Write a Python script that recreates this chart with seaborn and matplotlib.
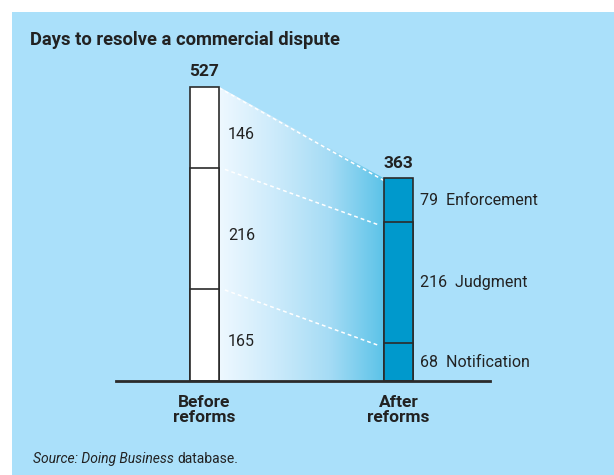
import numpy as np
import pandas as pd
import matplotlib.pyplot as plt
import seaborn as sns
from matplotlib.colors import LinearSegmentedColormap
from matplotlib.patches import Polygon, Rectangle

# data (days)
periods = ['Before\nreforms', 'After\nreforms']
stages = ['Notification', 'Judgment', 'Enforcement']
before_days = [165, 216, 146]
after_days = [68, 216, 79]

PANEL = '#aae0fa'
AFTER = '#0099cc'
EDGE = '#2b2b2b'
TXT = '#222222'

sns.set_theme(style='white')
plt.rcParams['font.family'] = ['Roboto', 'DejaVu Sans']

rows = []
for p, vals in zip(periods, [before_days, after_days]):
    cum = np.cumsum(vals)
    for s, c in zip(stages, cum):
        rows.append({'period': p, 'stage': s, 'cum': c})
df = pd.DataFrame(rows)
totals = df.groupby('period', sort=False)['cum'].max()

fig = plt.figure(figsize=(6.14, 4.75), dpi=100)
fig.patch.set_facecolor('white')
fig.patches.append(Rectangle((12 / 614, 0), 1, 1 - 12 / 475, transform=fig.transFigure,
                             facecolor=PANEL, edgecolor='none', zorder=-10))

ax = fig.add_axes([116 / 614, 94 / 475, 374 / 614, 335 / 475])
ax.set_facecolor('none')

bw = 0.15
# layered cumulative bars = stacked look
for s in stages[::-1]:
    sub = df[df['stage'] == s]
    sns.barplot(data=sub, x='period', y='cum', hue='period', order=periods,
                hue_order=periods, palette={periods[0]: 'white', periods[1]: AFTER},
                saturation=1, width=bw, errorbar=None, legend=False,
                edgecolor=EDGE, linewidth=1.2, ax=ax, zorder=3)

# gradient wedge between the bars
b_cum = np.cumsum(before_days)
a_cum = np.cumsum(after_days)
x0, x1 = 0 + bw / 2, 1 - bw / 2
cmap = LinearSegmentedColormap.from_list('g', ['#eef8ff', '#cdebfb', '#a6dcf5', '#5cc3e8'])
grad = np.linspace(0, 1, 256).reshape(1, -1)
im = ax.imshow(grad, extent=[x0, x1, 0, b_cum[-1]], aspect='auto', cmap=cmap,
               origin='lower', zorder=1)
poly = Polygon([(x0, 0), (x0, b_cum[-1]), (x1, a_cum[-1]), (x1, 0)],
               closed=True, facecolor='none', edgecolor='none', transform=ax.transData)
ax.add_patch(poly)
im.set_clip_path(poly)

for i, (yb, ya) in enumerate(zip(b_cum, a_cum)):
    off = 0.0 if i == 2 else 0.03
    ax.plot([x0 + off, x1 - off], [yb - 2, ya - 4], color='white', lw=1.1,
            ls=(0, (2.5, 2)), zorder=2)

# segment labels
lo = np.concatenate([[0], b_cum[:-1]])
for v, l in zip(before_days, lo):
    ax.text(x0 + 0.045, l + v / 2 - 12, str(v), ha='left', va='center',
            fontsize=11.5, color=TXT, zorder=4)
lo = np.concatenate([[0], a_cum[:-1]])
for v, l, s in zip(after_days, lo, stages):
    ax.text(1 + bw / 2 + 0.035, l + v / 2, f'{v}  {s}', ha='left', va='center',
            fontsize=11.5, color=TXT, zorder=4)

# totals
for i, p in enumerate(periods):
    ax.text(i, totals[p] + 14, str(totals[p]), ha='center', va='bottom',
            fontsize=12.5, fontweight='bold', color=TXT)

ax.set_xlim(-88.5 / 194, 285.5 / 194)
ax.set_ylim(0, 600)
ax.set_yticks([])
ax.set_xlabel('')
ax.set_ylabel('')
ax.tick_params(axis='x', length=0, pad=10)
for t in ax.get_xticklabels():
    t.set_fontweight('bold')
    t.set_fontsize(12.5)
    t.set_color(TXT)
    t.set_linespacing(1.0)
for k in ['top', 'right', 'left']:
    ax.spines[k].set_visible(False)
ax.spines['bottom'].set_color(EDGE)
ax.spines['bottom'].set_linewidth(2)
ax.spines['bottom'].set_zorder(5)

fig.text(30 / 614, 1 - 40 / 475, 'Days to resolve a commercial dispute', ha='left',
         va='center', fontsize=13.2, fontweight='bold', color=TXT)
t1 = fig.text(33 / 614, 1 - 459 / 475, 'Source: Doing Business', ha='left', va='center',
              fontsize=10, fontstyle='italic', color=TXT)
fig.canvas.draw()
bb = t1.get_window_extent()
fig.text(bb.x1 / fig.bbox.width + 3 / 614, 1 - 459 / 475, 'database.', ha='left',
         va='center', fontsize=10, color=TXT)

fig.savefig('out.png', dpi=100)
